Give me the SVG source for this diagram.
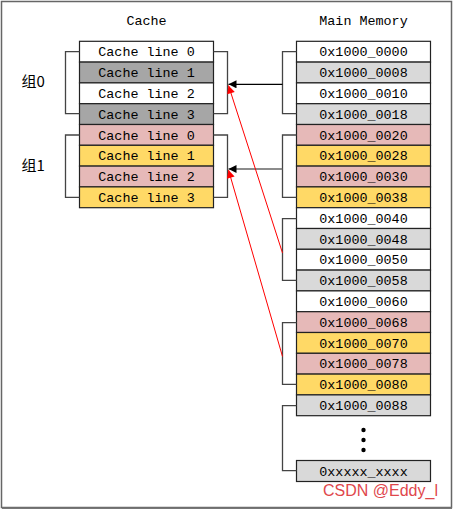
<svg xmlns="http://www.w3.org/2000/svg" width="454" height="510" viewBox="0 0 454 510">
<style>
.box{stroke:#222;stroke-width:1.2}
.w{fill:#ffffff}.dg{fill:#a6a6a6}.lg{fill:#d9d9d9}.pk{fill:#e6b9b8}.yl{fill:#ffd966}
.t{font-family:"Liberation Mono",monospace;font-size:13.4px;fill:#000;text-anchor:middle}
.br{fill:none;stroke:#444;stroke-width:1.3}
.cj{font-family:"Noto Sans CJK SC",sans-serif;font-size:15px;fill:#000}
</style>
<defs>
<marker id="ab" viewBox="0 0 10 10" refX="10" refY="5" markerWidth="10" markerHeight="8" markerUnits="userSpaceOnUse" orient="auto"><path d="M0,0 L10,5 L0,10 z" fill="#000"/></marker>
<marker id="ar" viewBox="0 0 10 10" refX="10" refY="5" markerWidth="10" markerHeight="8" markerUnits="userSpaceOnUse" orient="auto"><path d="M0,0 L10,5 L0,10 z" fill="#f00"/></marker>
</defs>
<rect x="1.5" y="1.5" width="450" height="506" fill="#fff" stroke="#666" stroke-width="1.5"/>
<line x1="2" y1="508.2" x2="452" y2="508.2" stroke="#777" stroke-width="1.5"/>
<text class="t" x="146.5" y="25">Cache</text>
<text class="t" x="363.5" y="25">Main Memory</text>
<g id="group0-label"><text class="cj" x="21.5" y="87">组0</text></g>
<g id="group1-label"><text class="cj" x="21.5" y="171">组1</text></g>
<g id="cache">
<g id="c0"><rect class="box w" x="79.5" y="41.3" width="134" height="20.8"/><text class="t" x="146.5" y="56.3">Cache line 0</text></g>
<g id="c1"><rect class="box dg" x="79.5" y="62.1" width="134" height="20.8"/><text class="t" x="146.5" y="77.1">Cache line 1</text></g>
<g id="c2"><rect class="box w" x="79.5" y="82.9" width="134" height="20.8"/><text class="t" x="146.5" y="97.9">Cache line 2</text></g>
<g id="c3"><rect class="box dg" x="79.5" y="103.7" width="134" height="20.8"/><text class="t" x="146.5" y="118.7">Cache line 3</text></g>
<g id="c4"><rect class="box pk" x="79.5" y="124.5" width="134" height="20.8"/><text class="t" x="146.5" y="139.5">Cache line 0</text></g>
<g id="c5"><rect class="box yl" x="79.5" y="145.3" width="134" height="20.8"/><text class="t" x="146.5" y="160.3">Cache line 1</text></g>
<g id="c6"><rect class="box pk" x="79.5" y="166.1" width="134" height="20.8"/><text class="t" x="146.5" y="181.1">Cache line 2</text></g>
<g id="c7"><rect class="box yl" x="79.5" y="186.9" width="134" height="20.8"/><text class="t" x="146.5" y="201.9">Cache line 3</text></g>
</g>
<g id="memory">
<g id="m0"><rect class="box w" x="296.5" y="41.3" width="134" height="20.8"/><text class="t" x="363.5" y="56.3">0x1000_0000</text></g>
<g id="m1"><rect class="box lg" x="296.5" y="62.1" width="134" height="20.8"/><text class="t" x="363.5" y="77.1">0x1000_0008</text></g>
<g id="m2"><rect class="box w" x="296.5" y="82.9" width="134" height="20.8"/><text class="t" x="363.5" y="97.9">0x1000_0010</text></g>
<g id="m3"><rect class="box lg" x="296.5" y="103.7" width="134" height="20.8"/><text class="t" x="363.5" y="118.7">0x1000_0018</text></g>
<g id="m4"><rect class="box pk" x="296.5" y="124.5" width="134" height="20.8"/><text class="t" x="363.5" y="139.5">0x1000_0020</text></g>
<g id="m5"><rect class="box yl" x="296.5" y="145.3" width="134" height="20.8"/><text class="t" x="363.5" y="160.3">0x1000_0028</text></g>
<g id="m6"><rect class="box pk" x="296.5" y="166.1" width="134" height="20.8"/><text class="t" x="363.5" y="181.1">0x1000_0030</text></g>
<g id="m7"><rect class="box yl" x="296.5" y="186.9" width="134" height="20.8"/><text class="t" x="363.5" y="201.9">0x1000_0038</text></g>
<g id="m8"><rect class="box w" x="296.5" y="207.7" width="134" height="20.8"/><text class="t" x="363.5" y="222.7">0x1000_0040</text></g>
<g id="m9"><rect class="box lg" x="296.5" y="228.5" width="134" height="20.8"/><text class="t" x="363.5" y="243.5">0x1000_0048</text></g>
<g id="m10"><rect class="box w" x="296.5" y="249.3" width="134" height="20.8"/><text class="t" x="363.5" y="264.3">0x1000_0050</text></g>
<g id="m11"><rect class="box lg" x="296.5" y="270.1" width="134" height="20.8"/><text class="t" x="363.5" y="285.1">0x1000_0058</text></g>
<g id="m12"><rect class="box w" x="296.5" y="290.9" width="134" height="20.8"/><text class="t" x="363.5" y="305.9">0x1000_0060</text></g>
<g id="m13"><rect class="box pk" x="296.5" y="311.7" width="134" height="20.8"/><text class="t" x="363.5" y="326.7">0x1000_0068</text></g>
<g id="m14"><rect class="box yl" x="296.5" y="332.5" width="134" height="20.8"/><text class="t" x="363.5" y="347.5">0x1000_0070</text></g>
<g id="m15"><rect class="box pk" x="296.5" y="353.3" width="134" height="20.8"/><text class="t" x="363.5" y="368.3">0x1000_0078</text></g>
<g id="m16"><rect class="box yl" x="296.5" y="374.1" width="134" height="20.8"/><text class="t" x="363.5" y="389.1">0x1000_0080</text></g>
<g id="m17"><rect class="box lg" x="296.5" y="394.9" width="134" height="20.8"/><text class="t" x="363.5" y="409.9">0x1000_0088</text></g>
<g id="dots"><circle cx="363.5" cy="430" r="2.2"/><circle cx="363.5" cy="440" r="2.2"/><circle cx="363.5" cy="450" r="2.2"/></g>
<g id="mlast"><rect class="box lg" x="296.5" y="460.5" width="134" height="21"/><text class="t" x="363.5" y="475.8">0xxxxx_xxxx</text></g>
</g>
<g id="connectors">
<path class="br" d="M79.5,51.7 H65.5 V113.7 H79.5"/>
<path class="br" d="M79.5,135 H65.5 V197.3 H79.5"/>
<path class="br" d="M213.5,51.7 H227.5 V113.7 H213.5"/>
<path class="br" d="M213.5,135 H227.5 V197.3 H213.5"/>
<path class="br" d="M296.5,51.7 H282.5 V113.7 H296.5"/>
<path class="br" d="M296.5,135 H282.5 V197.3 H296.5"/>
<path class="br" d="M296.5,218.7 H282.5 V280.3 H296.5"/>
<path class="br" d="M296.5,322.7 H282.5 V384.3 H296.5"/>
<path class="br" d="M296.5,405.7 H282.5 V470.7 H296.5"/>
<line x1="282.5" y1="84.3" x2="228.5" y2="84.3" stroke="#000" stroke-width="1.2" marker-end="url(#ab)"/>
<line x1="282.5" y1="169" x2="228.5" y2="169" stroke="#666" stroke-width="1.5" marker-end="url(#ab)"/>
<line x1="282.5" y1="253" x2="228.5" y2="85.5" stroke="#f00" stroke-width="1" marker-end="url(#ar)"/>
<line x1="282.5" y1="356.5" x2="228.5" y2="170" stroke="#f00" stroke-width="1" marker-end="url(#ar)"/>
</g>
<text x="323" y="496" font-family="'Liberation Sans',Arial,sans-serif" font-size="16" fill="#e0474c">CSDN @Eddy_l</text>
</svg>
